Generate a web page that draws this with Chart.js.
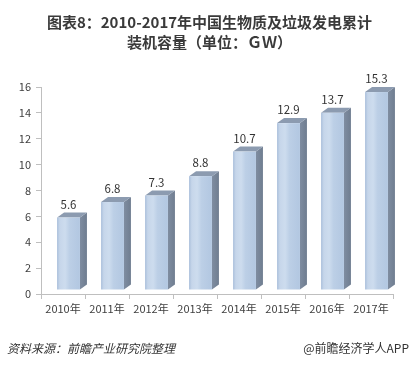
<!DOCTYPE html>
<html>
<head>
<meta charset="utf-8">
<script src="https://cdn.jsdelivr.net/npm/chart.js@4.4.1/dist/chart.umd.min.js"></script>
<style>
    html, body { margin: 0; padding: 0; background: #fff; }
    #wrap { position: relative; width: 419px; height: 366px; overflow: hidden; }
    #chart { position: absolute; left: 0; top: 0; }
    .title {
        position: absolute; left: 0; width: 419px; text-align: center;
        font-family: "Noto Sans CJK SC", sans-serif; font-weight: bold;
        font-size: 15px; color: #3a3a3a; line-height: 20px;
    }
    .foot {
        position: absolute; top: 340px; font-size: 12px; color: #333;
        font-family: "Noto Sans CJK SC", sans-serif; line-height: 16px;
    }
</style>
</head>
<body>
<div id="wrap">
    <canvas id="chart" width="419" height="366"></canvas>
    <div class="title" style="top:12px">图表8：2010-2017年中国生物质及垃圾发电累计</div>
    <div class="title" style="top:32px">装机容量（单位：ＧＷ）</div>
    <div class="foot" style="left:7px;font-style:italic">资料来源：前瞻产业研究院整理</div>
    <div class="foot" style="right:10px">@前瞻经济学人APP</div>
</div>
<script>
const categories = ['2010年', '2011年', '2012年', '2013年', '2014年', '2015年', '2016年', '2017年'];
const capacity = [5.6, 6.8, 7.3, 8.8, 10.7, 12.9, 13.7, 15.3];
const yMax = 16;
const yStep = 2;

// fake 3d look: front face, right side, top
const bars3d = {
    id: 'bars3d',
    afterDatasetsDraw(chart) {
        const ctx = chart.ctx;
        const meta = chart.getDatasetMeta(0);
        const shift = 5.5, lift = 4, dx = 7, dy = 5;
        ctx.save();
        meta.data.forEach(function (bar, i) {
            const w = bar.width;
            const x0 = bar.x - w / 2 + shift;
            const x1 = x0 + w;
            const top = bar.y - lift;
            const bottom = bar.base - lift;

            // side
            let g = ctx.createLinearGradient(x1, 0, x1 + dx, 0);
            g.addColorStop(0, '#7f8da1');
            g.addColorStop(1, '#6f7d90');
            ctx.fillStyle = g;
            ctx.beginPath();
            ctx.moveTo(x1, top);
            ctx.lineTo(x1 + dx, top - dy);
            ctx.lineTo(x1 + dx, bottom - dy);
            ctx.lineTo(x1, bottom);
            ctx.closePath();
            ctx.fill();

            // top
            ctx.fillStyle = '#8c9bb0';
            ctx.beginPath();
            ctx.moveTo(x0, top);
            ctx.lineTo(x0 + dx, top - dy);
            ctx.lineTo(x1 + dx, top - dy);
            ctx.lineTo(x1, top);
            ctx.closePath();
            ctx.fill();

            // front
            g = ctx.createLinearGradient(x0, 0, x1, 0);
            g.addColorStop(0, '#aabfdb');
            g.addColorStop(0.12, '#c6d6ea');
            g.addColorStop(0.35, '#cddcee');
            g.addColorStop(0.55, '#bccfe6');
            g.addColorStop(1, '#b2c7e1');
            ctx.fillStyle = g;
            ctx.fillRect(x0, top, w, bottom - top);

            // value label
            ctx.fillStyle = '#333';
            ctx.font = '11.5px "Noto Sans CJK SC", sans-serif';
            ctx.textAlign = 'center';
            ctx.textBaseline = 'alphabetic';
            ctx.fillText(capacity[i].toFixed(1), x0 + w / 2, top - dy - 4);
        });
        ctx.restore();
    }
};

new Chart(document.getElementById('chart'), {
    type: 'bar',
    data: {
        labels: categories,
        datasets: [{
            data: capacity,
            backgroundColor: 'rgba(0,0,0,0)',
            barPercentage: 0.52,
            categoryPercentage: 1
        }]
    },
    options: {
        responsive: false,
        animation: false,
        layout: { padding: { top: 87, right: 26, bottom: 46, left: 0 } },
        plugins: {
            legend: { display: false },
            tooltip: { enabled: false }
        },
        scales: {
            x: {
                grid: { display: true, drawOnChartArea: false, offset: true, color: '#bfbfbf', tickLength: 5 },
                border: { color: '#bfbfbf' },
                ticks: { color: '#404040', font: { size: 11, family: '"Noto Sans CJK SC", sans-serif' }, padding: 3 },
                afterFit: function (scale) { scale.height = 26; }
            },
            y: {
                min: 0,
                max: yMax,
                ticks: { stepSize: yStep, color: '#404040', font: { size: 11, family: '"Noto Sans CJK SC", sans-serif' }, padding: 5 },
                grid: { display: true, drawOnChartArea: false, color: '#bfbfbf', tickLength: 5 },
                border: { color: '#bfbfbf' },
                afterFit: function (scale) { scale.width = 41; }
            }
        }
    },
    plugins: [bars3d]
});
</script>
</body>
</html>
